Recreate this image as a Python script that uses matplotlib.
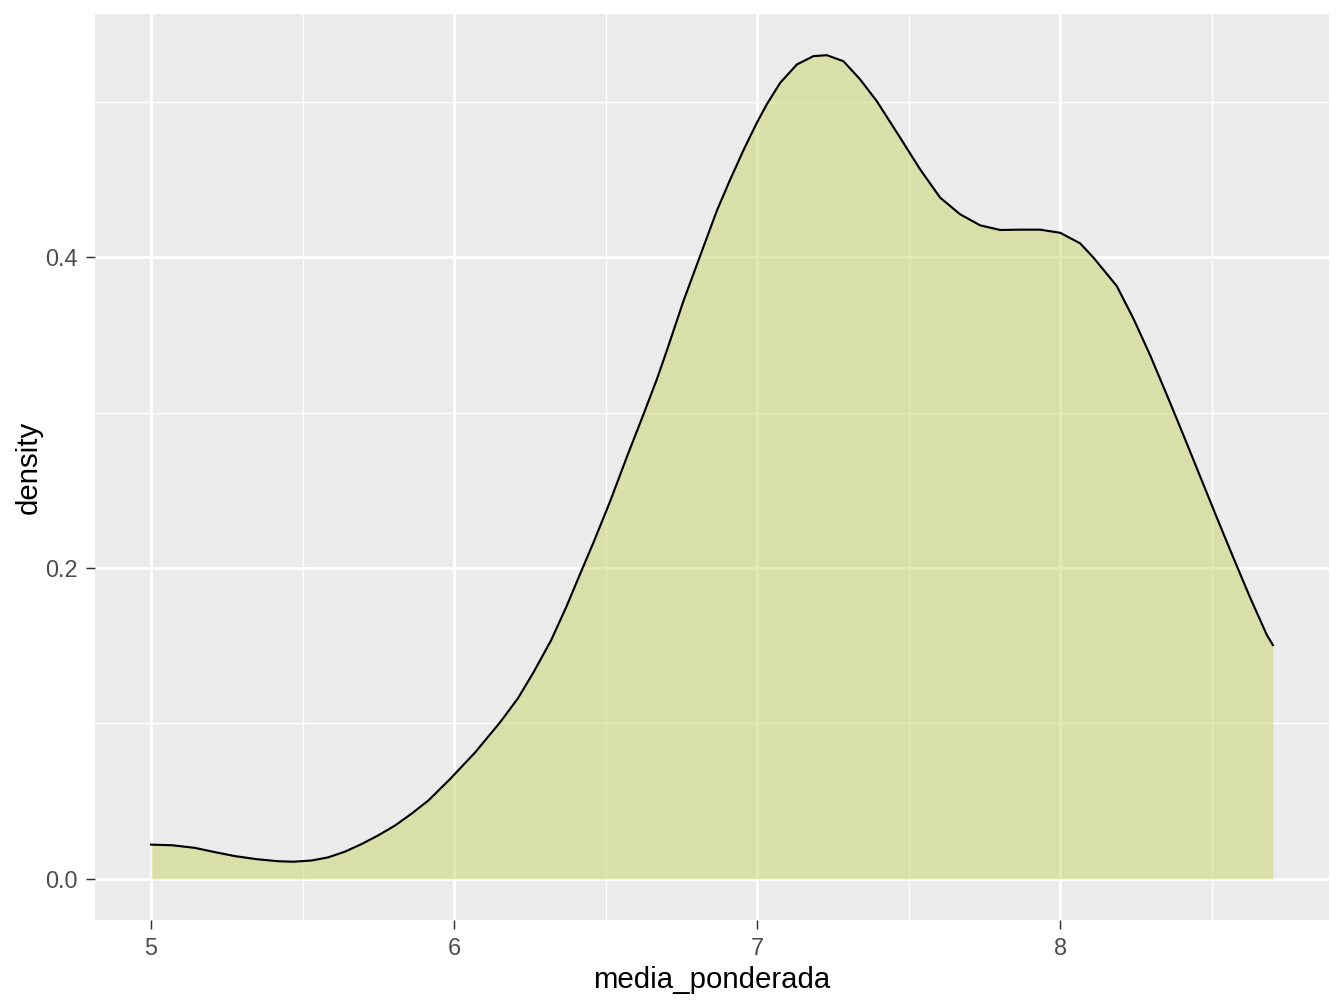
import numpy as np
import matplotlib.pyplot as plt

# density curve (media_ponderada -> density)
media_ponderada = [5.000, 5.070, 5.145, 5.210, 5.277, 5.350, 5.420, 5.470, 5.530,
                   5.584, 5.640, 5.696, 5.750, 5.805, 5.860, 5.915, 5.987, 6.070,
                   6.152, 6.210, 6.262, 6.320, 6.372, 6.411, 6.460, 6.515, 6.570,
                   6.625, 6.669, 6.702, 6.757, 6.812, 6.867, 6.911, 6.955, 6.999,
                   7.032, 7.076, 7.131, 7.186, 7.230, 7.285, 7.340, 7.395, 7.472,
                   7.538, 7.604, 7.670, 7.736, 7.802, 7.868, 7.934, 8.000, 8.066,
                   8.110, 8.187, 8.242, 8.297, 8.352, 8.407, 8.462, 8.517, 8.572,
                   8.627, 8.682, 8.702]
density = [0.0220, 0.0216, 0.0199, 0.0172, 0.0146, 0.0126, 0.0113, 0.0110, 0.0118,
           0.0138, 0.0175, 0.0225, 0.0280, 0.0343, 0.0420, 0.0504, 0.0643, 0.0815,
           0.1008, 0.1160, 0.1329, 0.1535, 0.1758, 0.1940, 0.2165, 0.2430, 0.2715,
           0.2990, 0.3215, 0.3400, 0.3720, 0.4010, 0.4300, 0.4500, 0.4690, 0.4866,
           0.4985, 0.5123, 0.5241, 0.5295, 0.5301, 0.5262, 0.5145, 0.5005, 0.4770,
           0.4566, 0.4384, 0.4277, 0.4206, 0.4176, 0.4178, 0.4178, 0.4158, 0.4090,
           0.3998, 0.3815, 0.3605, 0.3370, 0.3115, 0.2855, 0.2590, 0.2325, 0.2065,
           0.1810, 0.1570, 0.1505]

x_ticks = [5, 6, 7, 8]
y_ticks = [0.0, 0.2, 0.4]
y_tick_labels = ["0.0", "0.2", "0.4"]

plt.rcParams['font.family'] = ['Liberation Sans', 'DejaVu Sans']

fig = plt.figure(figsize=(7, 5.25), dpi=192)
ax = fig.add_axes([0.0707, 0.0873, 0.9181, 0.8988])
ax.set_facecolor('#EBEBEB')

ax.fill_between(media_ponderada, 0, density, color='#C7D569', alpha=0.5,
                linewidth=0, zorder=3)
ax.plot(media_ponderada, density, color='black', linewidth=0.8, zorder=4)

xr = max(media_ponderada) - min(media_ponderada)
ax.set_xlim(min(media_ponderada) - 0.05 * xr, max(media_ponderada) + 0.05 * xr)
yr = max(density)
ax.set_ylim(-0.05 * yr, yr * 1.05)

ax.set_xticks(x_ticks)
ax.set_yticks(y_ticks)
ax.set_yticklabels(y_tick_labels)
ax.set_xticks([5.5, 6.5, 7.5, 8.5], minor=True)
ax.set_yticks([0.1, 0.3, 0.5], minor=True)

ax.grid(which='major', color='white', linewidth=1.1, zorder=1)
ax.grid(which='minor', color='white', linewidth=0.55, zorder=1)
ax.set_axisbelow(True)

for s in ax.spines.values():
    s.set_visible(False)

ax.tick_params(which='major', length=3.5, width=0.55, color='#333333',
               labelsize=8.8, labelcolor='#4D4D4D', pad=3)
ax.tick_params(which='minor', length=0)

ax.set_xlabel('media_ponderada', fontsize=11, color='black', labelpad=2)
ax.set_ylabel('density', fontsize=11, color='black', labelpad=1)

fig.savefig('out.png', dpi=192)
